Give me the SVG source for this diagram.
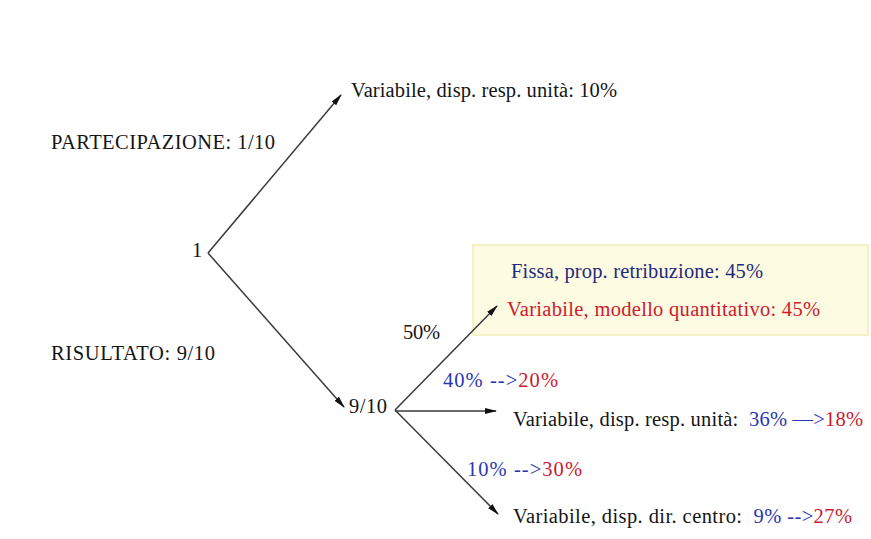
<svg xmlns="http://www.w3.org/2000/svg" width="871" height="539" viewBox="0 0 871 539">
<style>
text{font-family:"Liberation Serif","Times New Roman",serif;font-size:20.5px;fill:#151515}
.b{fill:#2a36b0}
.n{fill:#1f2a7a}
.r{fill:#cc1a2e}
.ln{stroke:#3a3a3a;stroke-width:1.5;fill:none}
</style>
<defs>
<marker id="ah" viewBox="0 0 12 10" refX="11" refY="5" markerWidth="12" markerHeight="10" markerUnits="userSpaceOnUse" orient="auto">
<path d="M0,2 L12,5 L0,8 Z" fill="#111"/>
</marker>
</defs>
<rect width="871" height="539" fill="#fff"/>
<g id="box">
<rect x="473" y="245" width="395" height="90" fill="#fdfbe2" stroke="#f4f0c8" stroke-width="2"/>
</g>
<g id="connectors">
<path class="ln" d="M208,253 L341,95" marker-end="url(#ah)"/>
<path class="ln" d="M208,253 L344,407" marker-end="url(#ah)"/>
<path class="ln" d="M395,410 L497,306" marker-end="url(#ah)"/>
<path class="ln" d="M395,411 L496,411" marker-end="url(#ah)"/>
<path class="ln" d="M395,410 L498,514" marker-end="url(#ah)"/>
</g>
<g id="n-root"><text x="192" y="257">1</text></g>
<g id="n-part"><text x="51" y="149" textLength="224">PARTECIPAZIONE: 1/10</text></g>
<g id="n-ris"><text x="51" y="360" textLength="164">RISULTATO: 9/10</text></g>
<g id="n-top"><text x="351" y="97" textLength="266">Variabile, disp. resp. unità: 10%</text></g>
<g id="n-910"><text x="349" y="413" textLength="38">9/10</text></g>
<g id="n-fissa"><text x="511" y="278" class="n" textLength="252">Fissa, prop. retribuzione: 45%</text></g>
<g id="n-quant"><text x="507" y="316" class="r" textLength="313">Variabile, modello quantitativo: 45%</text></g>
<g id="l50"><text x="403" y="339" textLength="37">50%</text></g>
<g id="l40"><text x="443" y="387" textLength="115"><tspan class="b">40% --&gt;</tspan><tspan class="r">20%</tspan></text></g>
<g id="n-resp"><text x="513" y="426" textLength="350">Variabile, disp. resp. unità:&#160; <tspan class="b">36% —&gt;</tspan><tspan class="r">18%</tspan></text></g>
<g id="l10"><text x="467" y="476" textLength="115"><tspan class="b">10% --&gt;</tspan><tspan class="r">30%</tspan></text></g>
<g id="n-dir"><text x="513" y="523" textLength="339">Variabile, disp. dir. centro:&#160; <tspan class="b">9% --&gt;</tspan><tspan class="r">27%</tspan></text></g>
</svg>
